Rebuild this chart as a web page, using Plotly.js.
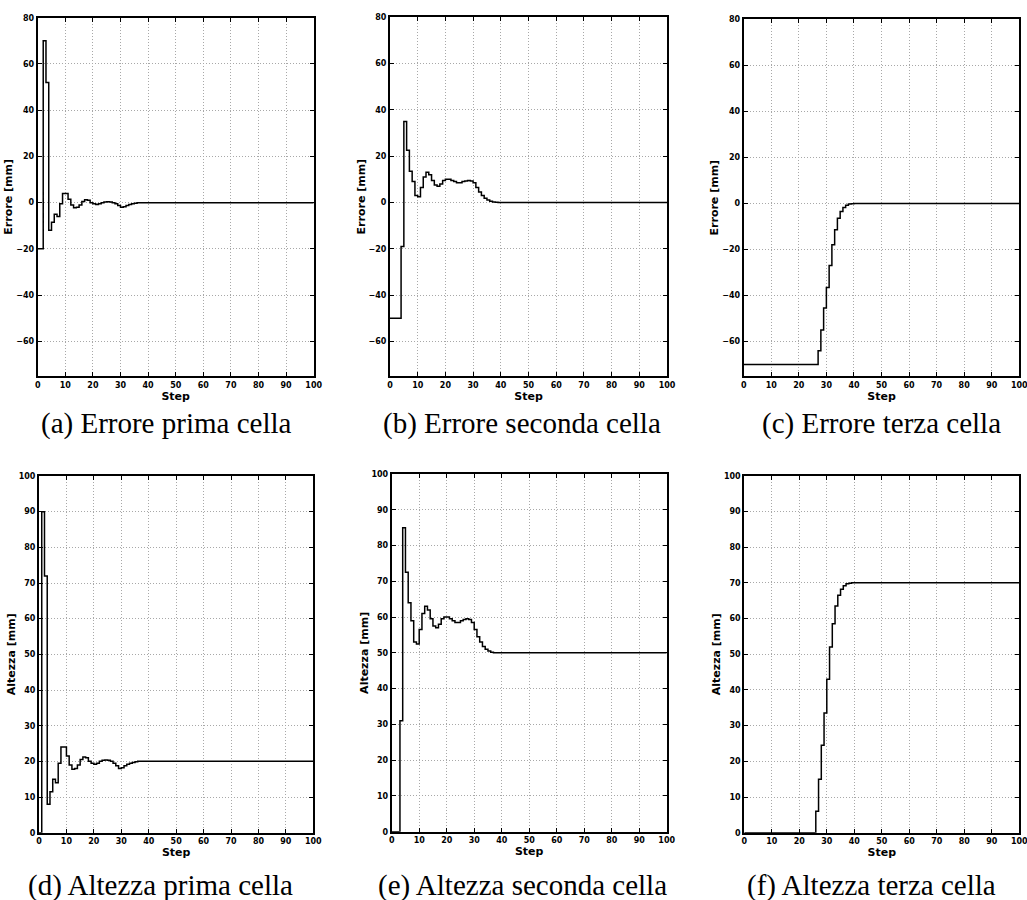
<!DOCTYPE html>
<html>
<head>
<meta charset="utf-8">
<script src="https://cdn.plot.ly/plotly-3.0.1.min.js"></script>
<style>html,body{margin:0;padding:0;background:#fff;}#chart{width:1027px;height:900px;}</style>
</head>
<body>
<div id="chart"></div>
<script>
// Steps at which the staircase values change (0..40), then the last step 100
const steps = [0,1,2,3,4,5,6,7,8,9,10,11,12,13,14,15,16,17,18,19,20,21,22,23,24,25,26,27,28,29,30,31,32,33,34,35,36,37,38,39,40,100];

// (a) Errore prima cella
const erroreA = [-20,-20,70,52,-12,-8.5,-5,-6,-0.5,4,4,1.5,-1,-2.2,-2,-1,0.5,1.2,1,0,-0.5,-0.8,-0.5,0,0.3,0.4,0.3,0,-0.5,-1.2,-2,-1.8,-1.2,-0.8,-0.5,-0.3,-0.1,0,0,0,0,0];
// (b) Errore seconda cella
const erroreB = [-50,-50,-50,-50,-19,35,22.5,13.5,9,3,2.5,6.5,11,13,12,9.5,7.5,7,8,9.5,10,10,9.5,9,8.5,8.5,9,9.3,9.5,9.3,8.5,6.5,4.5,3,1.8,1,0.5,0.2,0.05,0,0,0];
// (c) Errore terza cella
const erroreC = [-70,-70,-70,-70,-70,-70,-70,-70,-70,-70,-70,-70,-70,-70,-70,-70,-70,-70,-70,-70,-70,-70,-70,-70,-70,-70,-70,-64,-55,-45.5,-36.5,-27,-18,-11.5,-6.5,-3.5,-1.8,-0.8,-0.3,-0.1,0,0];
// (d) Altezza prima cella
const altezzaA = [0,90,72,8,11.5,15,14,19.5,24,24,21.5,19,17.8,18,19,20.5,21.2,21,20,19.5,19.2,19.5,20,20.3,20.4,20.3,20,19.5,18.8,18,18.2,18.8,19.2,19.5,19.7,19.9,20,20,20,20,20,20];
// (e) Altezza seconda cella
const altezzaB = [0,0,0,31,85,72.5,64,59,53,52.5,56.5,61,63,62,59.5,57.5,57,58,59.5,60,60,59.5,59,58.5,58.5,59,59.3,59.5,59.3,58.5,56.5,54.5,53,51.8,51,50.5,50.2,50.05,50,50,50,50];
// (f) Altezza terza cella
const altezzaC = [0,0,0,0,0,0,0,0,0,0,0,0,0,0,0,0,0,0,0,0,0,0,0,0,0,0,6,15,24.5,33.5,43,52,58.5,63.5,66.5,68.2,69.2,69.7,69.9,70,70,70];

const captions = ["(a) Errore prima cella","(b) Errore seconda cella","(c) Errore terza cella",
                  "(d) Altezza prima cella","(e) Altezza seconda cella","(f) Altezza terza cella"];
const yTitles = ["Errore [mm]","Errore [mm]","Errore [mm]","Altezza [mm]","Altezza [mm]","Altezza [mm]"];
const xTitle = "Step";
const errRange = [-75, 80];
const altRange = [0, 100];

const W = 1027, H = 900;
// panel boxes in pixels: [left, right, top, bottom]
const boxes = [
  [37.7, 313.7, 17.7, 376],
  [390, 667, 17.3, 376],
  [743.7, 1019.3, 19.3, 376],
  [39, 313.3, 476, 832.7],
  [391.7, 666.7, 474, 831.7],
  [744.3, 1019.3, 475.7, 832.7]
];
const capPos = [[166,424],[522,424],[881,424],[160,885],[522,885],[871,885]];
const series = [erroreA, erroreB, erroreC, altezzaA, altezzaB, altezzaC];

const tickFont = {family:'DejaVu Sans', size:8, color:'#000', weight:'bold'};
const titleFont = {family:'DejaVu Sans', size:11, color:'#000', weight:'bold'};

const data = [];
const layout = {
  width: W, height: H,
  margin: {l:0, r:0, t:0, b:0},
  paper_bgcolor: '#fff', plot_bgcolor: '#fff',
  showlegend: false,
  annotations: []
};

function common() {
  return {
    showline: true, linewidth: 2, linecolor: '#000', mirror: 'allticks',
    ticks: 'inside', ticklen: 4, tickwidth: 1, tickcolor: '#000',
    showgrid: true, gridcolor: '#a8a8a8', griddash: '1px,2px', gridwidth: 1,
    zeroline: false, tickfont: tickFont, fixedrange: true,
    ticklabeloverflow: 'allow'
  };
}

for (let i = 0; i < 6; i++) {
  const n = i === 0 ? '' : String(i + 1);
  const b = boxes[i];
  const isErr = i < 3;
  data.push({
    type: 'scatter', mode: 'lines',
    x: steps, y: series[i],
    xaxis: 'x' + n, yaxis: 'y' + n,
    line: {shape: 'hv', color: '#000', width: 1.5},
    hoverinfo: 'skip'
  });
  layout['xaxis' + n] = Object.assign(common(), {
    domain: [b[0] / W, b[1] / W],
    anchor: 'y' + n,
    range: [0, 100], tick0: 0, dtick: 10,
    title: {text: xTitle, font: titleFont, standoff: 1}
  });
  layout['yaxis' + n] = Object.assign(common(), {
    domain: [1 - b[3] / H, 1 - b[2] / H],
    anchor: 'x' + n,
    range: isErr ? errRange : altRange,
    tick0: 0, dtick: isErr ? 20 : 10,
    title: {text: yTitles[i], font: titleFont, standoff: 1}
  });
  layout.annotations.push({
    xref: 'paper', yref: 'paper',
    x: capPos[i][0] / W, y: 1 - capPos[i][1] / H,
    xanchor: 'center', yanchor: 'middle',
    text: captions[i], showarrow: false,
    font: {family: 'Liberation Serif', size: 29, color: '#000'}
  });
}

Plotly.newPlot('chart', data, layout, {displayModeBar: false, staticPlot: true});
</script>
</body>
</html>
